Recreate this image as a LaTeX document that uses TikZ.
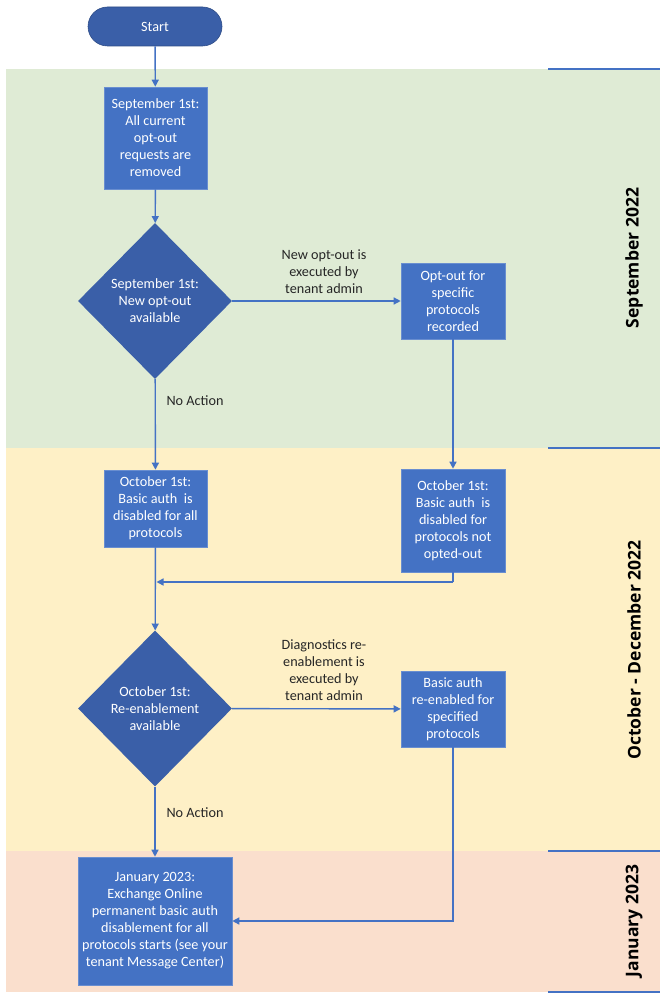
\documentclass[tikz,border=0pt]{standalone}
\usepackage{fontspec}
\setmainfont{Carlito}
\newfontfamily\labfont{Open Sans}
\usetikzlibrary{shapes.geometric,arrows.meta}
\definecolor{boxblue}{HTML}{4472C4}
\definecolor{darkblue}{HTML}{3A5FA8}
\definecolor{bandgreen}{HTML}{DFEBD5}
\definecolor{bandyellow}{HTML}{FEF0C6}
\definecolor{bandsalmon}{HTML}{FADFCD}
\tikzset{
  stepbox/.style={draw=boxblue!80!white, line width=0.6pt, fill=boxblue, text=white, align=center,
    inner sep=0pt, font=\fontsize{14.2}{17}\selectfont},
  decide/.style={diamond, fill=darkblue, text=white, align=center, inner sep=0pt,
    minimum width=154pt, minimum height=156pt, font=\fontsize{14.2}{17}\selectfont},
  startnode/.style={rectangle, rounded corners=19.5pt, fill=darkblue, draw=darkblue!80!black, line width=0.6pt,
    text=white, minimum width=134pt, minimum height=39pt, font=\fontsize{14.2}{17}\selectfont},
  conn/.style={draw=boxblue, line width=1.4pt, -{Triangle[width=7pt,length=7pt]}},
  plainconn/.style={draw=boxblue, line width=1.4pt},
  edgelab/.style={align=center, text=black!85, font=\fontsize{14.2}{17}\selectfont},
  phaselab/.style={rotate=90, font=\labfont\bfseries\fontsize{17.5}{20}\selectfont, text=black},
  phaseline/.style={draw=boxblue, line width=1.6pt}
}
\begin{document}
\begin{tikzpicture}[x=1pt,y=-1pt]
\useasboundingbox (0,0) rectangle (669,1000);
% bands
\fill[bandgreen] (6,69) rectangle (660,448);
\fill[bandyellow] (6,448) rectangle (660,851);
\fill[bandsalmon] (6,851) rectangle (660,992);
\draw[phaseline] (548,69) -- (660,69);
\draw[phaseline] (548,448) -- (660,448);
\draw[phaseline] (548,851) -- (660,851);
\draw[phaseline] (548,992) -- (660,992);
\node[phaselab] (p1) at (634,258) {September 2022};
\node[phaselab] (p2) at (634,650) {October - December 2022};
\node[phaselab] (p3) at (634,921) {January 2023};
% nodes
\node[startnode] (start) at (155,26.5) {Start};
\node[stepbox, minimum width=103pt, minimum height=102pt] (b1) at (155.5,138) {September 1st:\\All current\\opt-out\\requests are\\removed};
\node[decide] (d1) at (155,301) {September 1st:\\New opt-out\\available};
\node[stepbox, minimum width=104pt, minimum height=76pt] (opt) at (453,301) {Opt-out for\\specific\\protocols\\recorded};
\node[stepbox, minimum width=103pt, minimum height=77pt] (o1) at (155.5,508.5) {October 1st:\\Basic auth\ \ is\\disabled for all\\protocols};
\node[stepbox, minimum width=104pt, minimum height=103pt] (o2) at (453,520.5) {October 1st:\\Basic auth\ \ is\\disabled for\\protocols not\\opted-out};
\node[decide] (d2) at (155,708.5) {October 1st:\\Re-enablement\\available};
\node[stepbox, minimum width=104pt, minimum height=76pt] (re) at (453,709) {Basic auth\\re-enabled for\\specified\\protocols};
\node[stepbox, minimum width=154pt, minimum height=128pt] (jan) at (155,921) {January 2023:\\Exchange Online\\permanent basic auth\\disablement for all\\protocols starts (see your\\tenant Message Center)};
% labels
\node[edgelab] (l1) at (324,272) {New opt-out is\\executed by\\tenant admin};
\node[edgelab] (l2) at (195,401) {No Action};
\node[edgelab] (l3) at (324,670) {Diagnostics re-\\enablement is\\executed by\\tenant admin};
\node[edgelab] (l4) at (195,813) {No Action};
% connectors
\coordinate (m1) at (453,582);
\coordinate (m1e) at (155,582);
\coordinate (m2) at (453,921);
\path[conn] (start) -- (b1);
\path[conn] (b1) -- (d1);
\path[conn] (d1) -- (opt);
\path[conn] (d1) -- (o1);
\path[conn] (opt) -- (o2);
\path[conn] (o1) -- (d2);
\path[plainconn] (o2.south) -- (m1);
\path[conn] (m1) -- ([xshift=1.5pt]m1e);
\path[conn] (d2) -- (re);
\path[conn] (d2) -- (jan);
\path[conn] (re.south) -- (m2) -- (jan.east);
\end{tikzpicture}
\end{document}
